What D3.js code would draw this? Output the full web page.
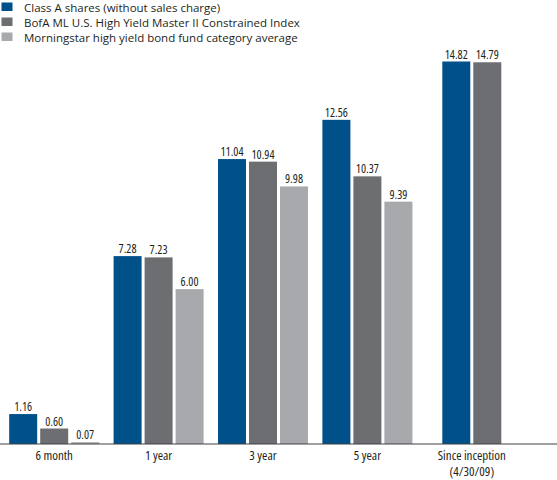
<!DOCTYPE html>
<html><head><meta charset="utf-8">
<script src="https://cdn.jsdelivr.net/npm/d3@7"></script>
<style>
html,body{margin:0;padding:0;background:#fff;}
svg{display:block;}
text{font-family:"Open Sans",Lato,sans-serif;font-weight:400;}
</style></head>
<body>
<svg id="chart" width="557" height="480"></svg>
<script>
const categories = ["6 month", "1 year", "3 year", "5 year", "Since inception\n(4/30/09)"];
const seriesNames = ["Class A shares (without sales charge)", "BofA ML U.S. High Yield Master II Constrained Index", "Morningstar high yield bond fund category average"];
const classA = [1.16, 7.28, 11.04, 12.56, 14.82];
const bofa = [0.60, 7.23, 10.94, 10.37, 14.79];
const morningstar = [0.07, 6.00, 9.98, 9.39, null];
const colors = ["#00508a", "#6d6e71", "#a7a9ac"];

const series = [classA, bofa, morningstar];
const svg = d3.select("#chart");
const baseY = 444;

const x = d3.scaleBand().domain(categories).range([2, 524]).paddingInner(0).paddingOuter(0);
const y = d3.scaleLinear().domain([0, 14.82]).range([baseY, 61.5]);
const barW = 28, barStep = 31;

categories.forEach((c, ci) => {
  const vals = series.map(s => s[ci]).map((v, si) => ({v, si})).filter(d => d.v != null);
  const n = vals.length;
  const center = x(c) + x.bandwidth() / 2;
  const start = center - ((n - 1) * barStep + barW) / 2;
  const g = svg.append("g");
  vals.forEach((d, k) => {
    const bx = start + k * barStep;
    g.append("rect").attr("x", bx).attr("y", y(d.v)).attr("width", barW)
      .attr("height", baseY - y(d.v)).attr("fill", colors[d.si]);
    g.append("text").attr("x", bx + barW / 2).attr("y", y(d.v) - 3)
      .attr("text-anchor", "middle").attr("font-size", 12).style("font-stretch", "75%")
      .attr("fill", "#231f20")
      .text(d.v.toFixed(2));
  });
});

// axis
const axis = d3.axisBottom(x).tickSize(0).tickPadding(6).tickFormat("");
const ax = svg.append("g").attr("transform", `translate(0,${baseY})`).call(axis);
ax.select(".domain").remove();
svg.append("line").attr("x1", 0).attr("x2", 557).attr("y1", baseY).attr("y2", baseY)
  .attr("stroke", "#414042").attr("stroke-width", 1.2);
ax.selectAll(".tick").each(function(d) {
  const lines = d.split("\n");
  const t = d3.select(this).append("text").attr("text-anchor", "middle")
    .attr("font-size", 13).style("font-stretch", "75%").attr("fill", "#231f20").attr("y", 16);
  lines.forEach((l, i) => t.append("tspan").attr("x", 0).attr("dy", i === 0 ? 0 : 16).text(l));
});

// legend
const lg = svg.append("g");
seriesNames.forEach((name, i) => {
  lg.append("rect").attr("x", 1.5).attr("y", 2.5 + i * 15).attr("width", 11).attr("height", 8.5).attr("fill", colors[i]);
  lg.append("text").attr("x", 24).attr("y", 11.5 + i * 15).attr("font-size", 11.5)
    .attr("fill", "#231f20").text(name);
});
</script>
</body></html>
